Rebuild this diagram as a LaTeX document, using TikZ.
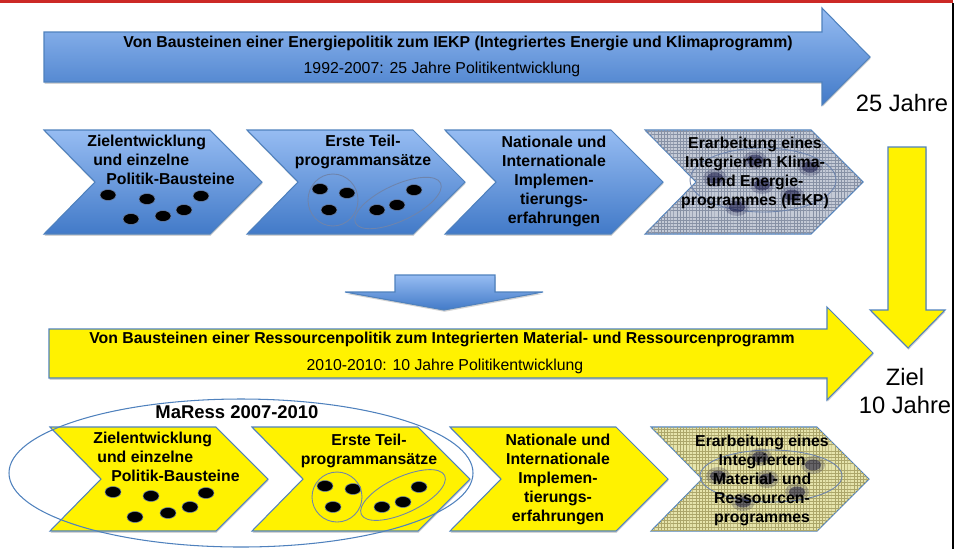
\documentclass[tikz,border=0pt]{standalone}
\usepackage{fontspec}
\setmainfont{Liberation Sans}
\usetikzlibrary{shapes.geometric,patterns,shadows}

\definecolor{edgeblue}{RGB}{79,129,189}
\definecolor{topblue}{RGB}{150,188,242}
\definecolor{botblue}{RGB}{66,122,200}
\definecolor{gridgray}{RGB}{196,202,214}
\definecolor{gridgraydk}{RGB}{135,145,165}
\definecolor{gridkhaki}{RGB}{230,228,172}
\definecolor{gridkhakidk}{RGB}{172,166,106}
\definecolor{barred}{RGB}{204,41,38}
\definecolor{grpline}{RGB}{110,132,172}

\pgfdeclarepatternformonly{finegrid}{\pgfqpoint{-0.1pt}{-0.1pt}}{\pgfqpoint{1.9pt}{1.9pt}}{\pgfqpoint{1.8pt}{1.8pt}}{%
  \pgfsetlinewidth{0.3pt}%
  \pgfpathmoveto{\pgfqpoint{0pt}{0pt}}\pgfpathlineto{\pgfqpoint{1.8pt}{0pt}}%
  \pgfpathmoveto{\pgfqpoint{0pt}{0pt}}\pgfpathlineto{\pgfqpoint{0pt}{1.8pt}}%
  \pgfusepath{stroke}}

% chevron outline, top left corner at (#1,#2)
\newcommand{\chevron}[2]{(#1,#2) -- ++(166,0) -- ++(52,52) -- ++(-52,52) -- ++(-166,0) -- ++(51,-52) -- cycle}

\begin{document}
\begin{tikzpicture}[
    x=0.02cm, y=-0.02cm,
    bluefill/.style={draw=edgeblue, line width=0.6pt, top color=topblue, bottom color=botblue,
      drop shadow={shadow xshift=0.3pt, shadow yshift=-1pt, opacity=0.35, fill=gray}},
    yellowfill/.style={draw=edgeblue, line width=0.6pt, fill=yellow,
      drop shadow={shadow xshift=0.3pt, shadow yshift=-1pt, opacity=0.35, fill=gray}},
    graygrid/.style={draw=edgeblue, line width=0.6pt, fill=gridgray,
      postaction={pattern=finegrid, pattern color=gridgraydk}},
    khakigrid/.style={draw=edgeblue, line width=0.6pt, fill=gridkhaki,
      postaction={pattern=finegrid, pattern color=gridkhakidk}},
    dot/.style={fill=black, draw=grpline, line width=0.3pt},
    blob/.style={fill=black!80!blue},
    grp/.style={draw=grpline, line width=0.5pt},
    head/.style={font=\fontsize{9}{10.8}\selectfont\bfseries, inner sep=0pt},
    sub/.style={font=\fontsize{9}{10.8}\selectfont, inner sep=0pt},
    chevtext/.style={font=\fontsize{9}{10.8}\selectfont\bfseries, align=center, inner sep=0pt},
    yeartext/.style={font=\fontsize{13.5}{16}\selectfont, align=center, inner sep=0pt}
]
\useasboundingbox (0,0) rectangle (955,549);

% frame
\fill[barred] (0,0) rectangle (953,3);
\draw[line width=0.9pt] (953,3) -- (953,549);

% big arrows
\path[bluefill] (44,32) -- (822,32) -- (822,8) -- (870,57) -- (822,105) -- (822,82) -- (44,82) -- cycle;
\path[yellowfill] (49,329) -- (827,329) -- (827,307) -- (873,353) -- (827,400) -- (827,378) -- (49,378) -- cycle;
\path[yellowfill] (888,147) -- (926,147) -- (926,310) -- (945,310) -- (908,348) -- (870,310) -- (888,310) -- cycle;
\path[bluefill] (395,275) -- (495,275) -- (495,292) -- (543,292) -- (444,310) -- (345,292) -- (395,292) -- cycle;

\node[head] (energyhead) at (458,43) {Von Bausteinen einer Energiepolitik zum IEKP (Integriertes Energie und Klimaprogramm)};
\node[sub] (energysub) at (442,69) {1992-2007: 25 Jahre Politikentwicklung};
\node[head] (resshead) at (442,339) {Von Bausteinen einer Ressourcenpolitik zum Integrierten Material- und Ressourcenprogramm};
\node[sub] (resssub) at (445,366) {2010-2010: 10 Jahre Politikentwicklung};

\node[yeartext] (years25) at (902,103) {25 Jahre};
\node[yeartext] (goal10) at (905,391) {Ziel\\10 Jahre};

% energy row
\path[bluefill] \chevron{44}{130};
\path[bluefill] \chevron{247}{130};
\path[bluefill] \chevron{445}{130};
\path[graygrid] \chevron{645}{130};

\foreach \x/\y in {108/195, 147/199, 201/196, 131/219, 163/216, 184/210}
  \path[dot] (\x,\y) ellipse [x radius=8, y radius=5.5];
\foreach \x/\y in {320/189, 347/193, 329/210, 377/210, 397/205, 414/190}
  \path[dot] (\x,\y) ellipse [x radius=8, y radius=5.5];
\draw[grp] (333,200) ellipse [x radius=25, y radius=26];
\draw[grp, rotate around={25:(398,203)}] (398,203) ellipse [x radius=47, y radius=18];

\draw[grp] (763,180) ellipse [x radius=73, y radius=32];
\foreach \x/\y in {755/160, 715/178, 810/167, 762/185, 792/195, 737/207} {
  \fill[blob, opacity=0.2] (\x,\y) ellipse [x radius=12, y radius=9];
  \fill[blob, opacity=0.45] (\x,\y) ellipse [x radius=8, y radius=5.5];
}

\node[chevtext, align=left, anchor=west] (egoals) at (87,160) {Zielentwicklung\\\hspace*{3.4pt}und einzelne\\\hspace*{10.8pt}Politik-Bausteine};
\node[chevtext] (eparts) at (363,152) {Erste Teil-\\programmansätze};
\node[chevtext] (eimpl) at (554,181) {Nationale und\\Internationale\\Implemen-\\tierungs-\\erfahrungen};
\node[chevtext] (eiekp) at (755,173) {Erarbeitung eines\\Integrierten Klima-\\und Energie-\\programmes (IEKP)};

% resource row
\path[yellowfill] \chevron{50}{427};
\path[yellowfill] \chevron{252}{427};
\path[yellowfill] \chevron{450}{427};
\path[khakigrid] \chevron{651}{427};

\foreach \x/\y in {113/492, 151/496, 206/493, 135/517, 168/513, 190/507}
  \path[dot] (\x,\y) ellipse [x radius=8, y radius=5.5];
\foreach \x/\y in {325/486, 353/489, 333/507, 382/507, 403/502, 419/487}
  \path[dot] (\x,\y) ellipse [x radius=8, y radius=5.5];
\draw[grp] (337,497) ellipse [x radius=25, y radius=25];
\draw[grp, rotate around={25:(403,495)}] (403,495) ellipse [x radius=46, y radius=18];

\draw[grp] (771,476) ellipse [x radius=71, y radius=26];
\foreach \x/\y in {760/457, 718/476, 813/465, 767/479, 797/492, 743/502} {
  \fill[blob, opacity=0.2] (\x,\y) ellipse [x radius=12, y radius=9];
  \fill[blob, opacity=0.45] (\x,\y) ellipse [x radius=8, y radius=5.5];
}

\node[chevtext, align=left, anchor=west] (rgoals) at (93,457) {Zielentwicklung\\\hspace*{2.3pt}und einzelne\\\hspace*{10.2pt}Politik-Bausteine};
\node[chevtext] (rparts) at (369,451) {Erste Teil-\\programmansätze};
\node[chevtext] (rimpl) at (558,479) {Nationale und\\Internationale\\Implemen-\\tierungs-\\erfahrungen};
\node[chevtext] (rprog) at (762,480) {Erarbeitung eines\\Integrierten\\Material- und\\Ressourcen-\\programmes};

% MaRess group
\draw[draw=edgeblue, line width=0.6pt] (241,473) ellipse [x radius=232, y radius=74];
\node[font=\fontsize{10.5}{12}\selectfont\bfseries, inner sep=0pt] (maress) at (237,412) {MaRess 2007-2010};
\end{tikzpicture}
\end{document}
